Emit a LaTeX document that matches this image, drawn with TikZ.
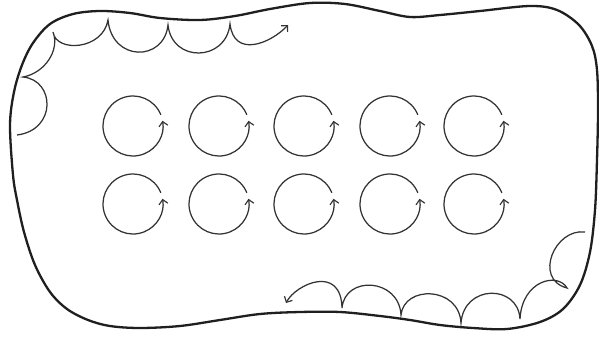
\documentclass[tikz,border=0pt]{standalone}
\usetikzlibrary{arrows.meta}
\begin{document}
\begin{tikzpicture}[x=1pt,y=-1pt,
  blob/.style={line width=2.3pt,draw=black!88},
  scallop/.style={line width=1.25pt,draw=black!80},
  barb/.style={-{Straight Barb[length=4.5pt,width=9pt,line width=1.15pt]}},
  whirl/.style={scallop,barb}]
\useasboundingbox (0,0) rectangle (599,337);
% outer outline
\draw[blob] plot[smooth cycle,tension=0.55] coordinates {
 (13,175) (10,125) (14,92) (22,65) (33,43) (50,24) (73,14) (100,11) (130,13)
 (160,18) (200,20) (235,16) (270,9) (310,3) (345,4) (380,11) (410,17) (440,15)
 (480,11) (530,6) (557,10) (579,25) (592,46) (597,70) (598,110) (597,160)
 (595,210) (590,252) (580,285) (563,309) (540,322) (507,329) (473,328) (440,325)
 (410,320) (380,316) (340,312) (300,312) (260,314) (220,320) (180,326)
 (140,328) (110,326) (88,320) (67,309) (50,292) (35,265) (24,232) (17,200)};
% top-left scallop chain
\coordinate (ts) at (17,135);
\coordinate (te) at (288,25);
\draw[scallop,barb] (ts)
  .. controls (57,130) and (55,80) .. (23,77)
  .. controls (45,73) and (60,50) .. (53,32)
  .. controls (56,53) and (103,50) .. (108,20)
  .. controls (112,62) and (164,62) .. (168,25)
  .. controls (172,63) and (226,62) .. (230,24)
  .. controls (234,58) and (270,44) .. (te);
% bottom-right scallop chain
\coordinate (bs) at (585,232);
\coordinate (be) at (286,303);
\draw[scallop,barb] (bs)
  .. controls (555,228) and (533,279) .. (567,288)
  .. controls (558,272) and (522,280) .. (520,319)
  .. controls (518,284) and (464,284) .. (461,323)
  .. controls (459,286) and (404,285) .. (401,315)
  .. controls (399,278) and (345,275) .. (342,308)
  .. controls (341,264) and (296,284) .. (be);
% circulating eddies
\foreach \cy in {126,204}{
  \foreach \cx in {133,219,304,390,474}{
    \draw[whirl] (\cx,\cy) ++(-22:30) arc[start angle=-22,end angle=-370,radius=30];
  }
}
\end{tikzpicture}
\end{document}
